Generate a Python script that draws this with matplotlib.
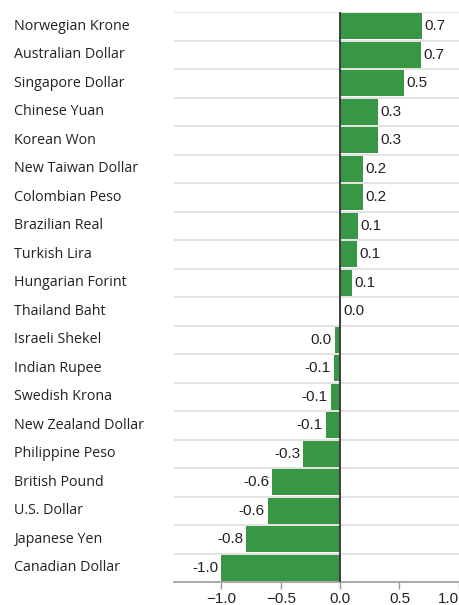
import matplotlib
matplotlib.use("Agg")
import matplotlib.pyplot as plt
from matplotlib.ticker import FixedLocator

categories = ["Norwegian Krone", "Australian Dollar", "Singapore Dollar", "Chinese Yuan",
              "Korean Won", "New Taiwan Dollar", "Colombian Peso", "Brazilian Real",
              "Turkish Lira", "Hungarian Forint", "Thailand Baht", "Israeli Shekel",
              "Indian Rupee", "Swedish Krona", "New Zealand Dollar", "Philippine Peso",
              "British Pound", "U.S. Dollar", "Japanese Yen", "Canadian Dollar"]
values = [0.69, 0.68, 0.54, 0.32, 0.32, 0.19, 0.19, 0.15, 0.14, 0.10,
          0.005, -0.045, -0.055, -0.08, -0.12, -0.31, -0.57, -0.61, -0.79, -1.00]
xticks = [-1.0, -0.5, 0.0, 0.5, 1.0]

W, H = 460, 605
fig = plt.figure(figsize=(W/100, H/100), dpi=100)
ax = fig.add_axes([174/W, 1-582/H, (460-174)/W, (582-12)/H])

n = len(categories)
ys = list(range(n))
ax.barh(ys, values, height=0.9, color="#379744", zorder=2)
ax.set_xlim(-1.40, 1.01)
ax.set_ylim(n-0.5, -0.5)

# row separators
for i in range(n):
    ax.axhline(i-0.5, color="#dddddd", lw=1.2, zorder=1)
ax.axvline(0, color="#333333", lw=1.3, zorder=3)

for y, v in zip(ys, values):
    lab = f"{abs(v):.1f}" if abs(v) < 0.05 else f"{v:.1f}"
    if v >= 0.0:
        ax.text(v + 0.022, y, lab, va="center", ha="left", fontsize=11,
                family="Liberation Sans", color="#222222", zorder=4)
    else:
        ax.text(v - 0.025, y, lab, va="center", ha="right", fontsize=11,
                family="Liberation Sans", color="#222222", zorder=4)

ax.set_yticks([])
for y, c in zip(ys, categories):
    ax.text(14/W, ax.transData.transform((0, y))[1]/H, c, transform=fig.transFigure,
            va="center", ha="left", fontsize=10.3, family="Open Sans", color="#222222")

ax.xaxis.set_major_locator(FixedLocator(xticks))
labels = ax.set_xticklabels([f"{t:.1f}".replace("-", "\u2212") for t in xticks],
                            family="Liberation Sans", fontsize=11, color="#222222")
labels[-1].set_horizontalalignment("right")
ax.tick_params(axis="x", length=5, width=1, color="#999999", pad=2)
for s in ["top", "right", "left"]:
    ax.spines[s].set_visible(False)
ax.spines["bottom"].set_color("#999999")
ax.spines["bottom"].set_linewidth(1.2)

fig.savefig("out.png", dpi=100)
